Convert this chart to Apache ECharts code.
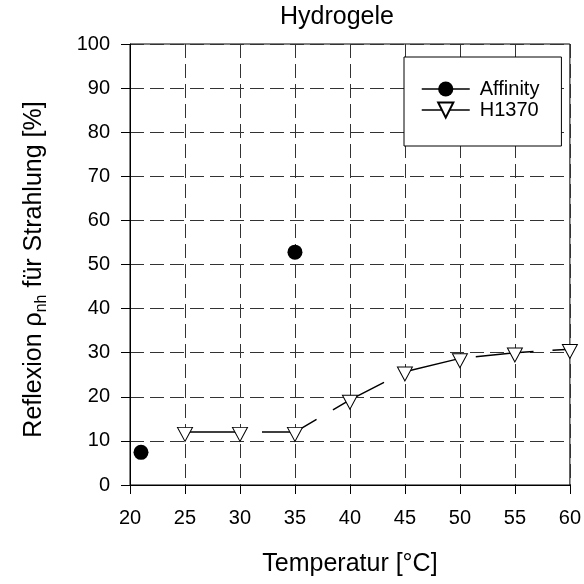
<!DOCTYPE html>
<html>
<head>
<meta charset="utf-8">
<style>
  html, body { margin: 0; padding: 0; background: #fff; }
  #chart { width: 584px; height: 584px; }
</style>
<script src="https://cdn.jsdelivr.net/npm/echarts@6/dist/echarts.min.js"></script>
</head>
<body>
<div id="chart"></div>
<script>
// Temperature on the x axis (°C)
const affinityTemp = [21, 35];
const affinityRefl = [7.4, 52.8];

const h1370Temp = [25, 30, 35, 40, 45, 50, 55, 60];
const h1370Refl = [12, 12, 12, 19.3, 25.7, 28.7, 30.0, 30.8];

const seriesNames = ['Affinity', 'H1370'];
const chartTitle = 'Hydrogele';
const xTitle = 'Temperatur [°C]';

const FONT = '"Liberation Sans", Arial, sans-serif';

const pairs = (xs, ys) => xs.map((x, i) => [x, ys[i]]);

const chart = echarts.init(document.getElementById('chart'), null, { renderer: 'canvas' });

const gridDash = { color: '#333', width: 1, type: [14, 6] };
const legendLine = { color: '#000', width: 1.5, opacity: 1, type: 'solid' };

chart.setOption({
  animation: false,
  backgroundColor: '#fff',
  textStyle: { fontFamily: FONT, color: '#000' },
  title: {
    text: chartTitle,
    left: 280,
    top: 5,
    padding: 0,
    textStyle: { fontFamily: FONT, fontSize: 25, fontWeight: 'normal', color: '#000' }
  },
  grid: {
    left: 130, right: 12, top: 44, bottom: 99,
    show: true, borderColor: '#000', borderWidth: 1, backgroundColor: 'transparent'
  },
  legend: {
    orient: 'vertical',
    left: 404, top: 57,
    padding: [22, 22, 26, 17],
    itemWidth: 48, itemHeight: 19, itemGap: 1,
    borderColor: '#000', borderWidth: 1, backgroundColor: '#fff',
    textStyle: { fontFamily: FONT, fontSize: 20, color: '#000', padding: [0, 0, 0, 5] },
    data: [
      { name: seriesNames[0], lineStyle: legendLine },
      { name: seriesNames[1], lineStyle: legendLine }
    ]
  },
  xAxis: {
    type: 'value', min: 20, max: 60, interval: 5,
    name: xTitle, nameLocation: 'middle', nameGap: 67,
    nameTextStyle: { fontFamily: FONT, fontSize: 25, color: '#000' },
    axisLine: { show: true, lineStyle: { color: '#000', width: 1 } },
    axisTick: { show: true, inside: false, length: 9, lineStyle: { color: '#000', width: 1 } },
    axisLabel: { fontFamily: FONT, fontSize: 20, color: '#000', margin: 23, showMaxLabel: true },
    splitLine: { show: true, lineStyle: gridDash }
  },
  yAxis: {
    type: 'value', min: 0, max: 100, interval: 10,
    name: 'Reflexion ρ{sub|nh} für Strahlung [%]',
    nameLocation: 'middle', nameGap: 80, nameRotate: 90,
    nameTextStyle: {
      fontFamily: FONT, fontSize: 25, color: '#000', lineHeight: 32,
      padding: [0, 10, 0, 0],
      rich: {
        sub: { fontFamily: FONT, fontSize: 16, lineHeight: 16, verticalAlign: 'bottom', color: '#000' }
      }
    },
    axisLine: { show: true, lineStyle: { color: '#000', width: 1 } },
    axisTick: { show: true, inside: false, length: 9, lineStyle: { color: '#000', width: 1 } },
    axisLabel: { fontFamily: FONT, fontSize: 20, color: '#000', margin: 20 },
    splitLine: { show: true, lineStyle: gridDash }
  },
  series: [
    {
      name: seriesNames[0],
      type: 'line',
      data: pairs(affinityTemp, affinityRefl),
      symbol: 'circle',
      symbolSize: 15,
      showAllSymbol: true,
      itemStyle: { color: '#000', borderColor: '#000', borderWidth: 0 },
      lineStyle: { opacity: 0, width: 0 },
      z: 5
    },
    {
      name: seriesNames[1],
      type: 'line',
      data: pairs(h1370Temp, h1370Refl),
      symbol: 'triangle',
      symbolRotate: 180,
      symbolSize: [15, 14],
      symbolOffset: [0, 2.3],
      showAllSymbol: true,
      itemStyle: { color: '#fff', borderColor: '#000', borderWidth: 1 },
      lineStyle: { color: '#000', width: 1.5, type: [58, 19] },
      z: 4
    }
  ]
});
</script>
</body>
</html>
